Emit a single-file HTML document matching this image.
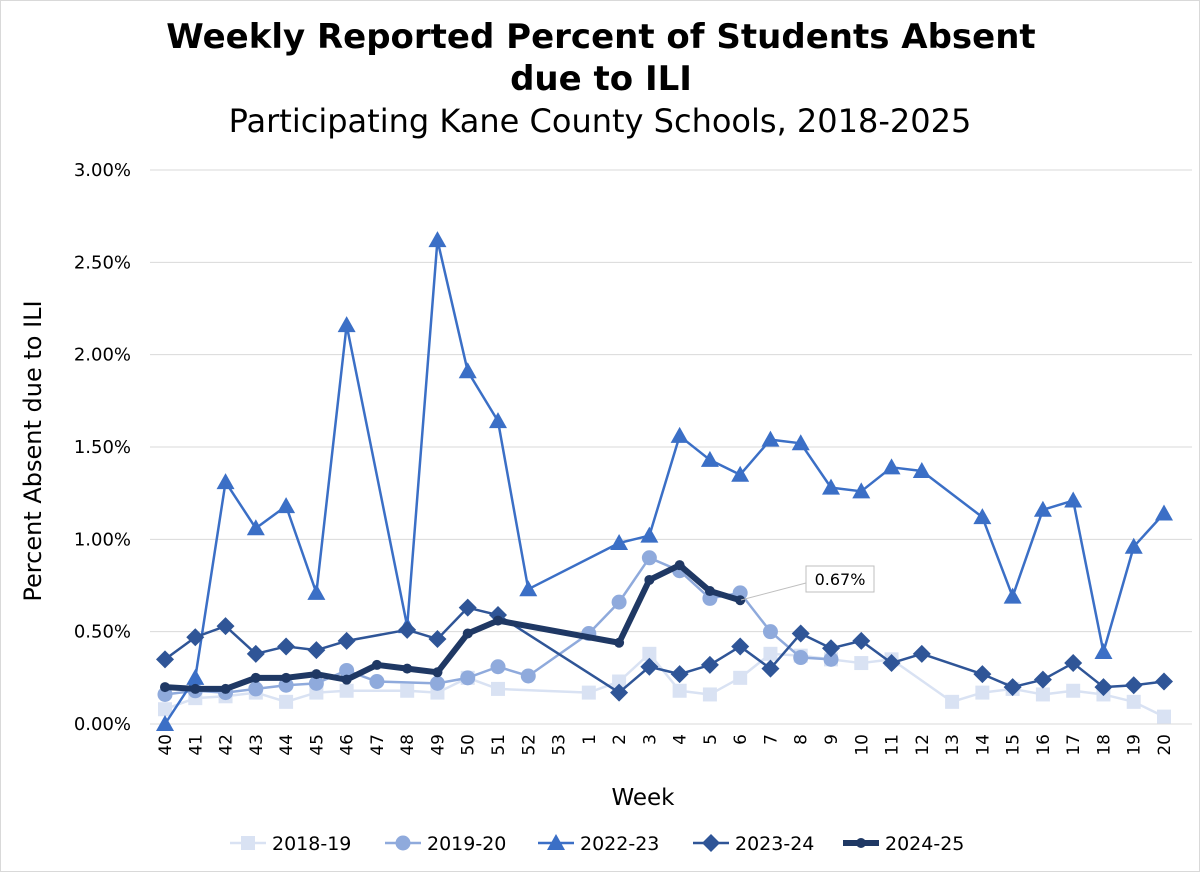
<!DOCTYPE html>
<html><head><meta charset="utf-8"><style>
body{margin:0;background:#fff;}
svg text{font-family:"DejaVu Sans","Liberation Sans",sans-serif;}
</style></head><body>
<svg id="chart" width="1200" height="872" viewBox="0 0 1200 872" xmlns="http://www.w3.org/2000/svg">
<rect x="0.5" y="0.5" width="1199" height="871" fill="#fff" stroke="#d9d9d9"/>
<text x="601" y="48" text-anchor="middle" font-size="34" font-weight="bold" fill="#000">Weekly Reported Percent of Students Absent</text>
<text x="601" y="90" text-anchor="middle" font-size="34" font-weight="bold" fill="#000">due to ILI</text>
<text x="600" y="132" text-anchor="middle" font-size="32" fill="#000">Participating Kane County Schools, 2018-2025</text>
<text transform="translate(41,451) rotate(-90)" text-anchor="middle" font-size="24" fill="#000">Percent Absent due to ILI</text>
<text x="643" y="805" text-anchor="middle" font-size="23" fill="#000">Week</text>
<g id="grid"></g><g id="xt"></g><g id="series"></g>
<g>
<line x1="741" y1="600" x2="806" y2="583" stroke="#bfbfbf"/>
<rect x="806" y="566" width="68" height="26" fill="#fff" stroke="#bfbfbf"/>
<text x="840" y="585" text-anchor="middle" font-size="16" fill="#000">0.67%</text>
</g>
<g id="legend"></g>
</svg>
<script>
const weeks=["40","41","42","43","44","45","46","47","48","49","50","51","52","53","1","2","3","4","5","6","7","8","9","10","11","12","13","14","15","16","17","18","19","20"];
const yTicks=[0,0.5,1,1.5,2,2.5,3];
const yTickLabels=["0.00%","0.50%","1.00%","1.50%","2.00%","2.50%","3.00%"];
const seriesNames=["2018-19","2019-20","2022-23","2023-24","2024-25"];
const s1819=[0.08,0.14,0.15,0.17,0.12,0.17,0.18,null,0.18,0.17,0.25,0.19,null,null,0.17,0.23,0.38,0.18,0.16,0.25,0.38,0.37,0.35,0.33,0.35,null,0.12,0.17,0.19,0.16,0.18,0.16,0.12,0.04];
const s1920=[0.16,0.18,0.17,0.19,0.21,0.22,0.29,0.23,null,0.22,0.25,0.31,0.26,null,0.49,0.66,0.90,0.83,0.68,0.71,0.50,0.36,0.35,null,null,null,null,null,null,null,null,null,null,null];
const s2223=[0.00,0.25,1.31,1.06,1.18,0.71,2.16,null,0.53,2.62,1.91,1.64,0.73,null,null,0.98,1.02,1.56,1.43,1.35,1.54,1.52,1.28,1.26,1.39,1.37,null,1.12,0.69,1.16,1.21,0.39,0.96,1.14];
const s2324=[0.35,0.47,0.53,0.38,0.42,0.40,0.45,null,0.51,0.46,0.63,0.59,null,null,null,0.17,0.31,0.27,0.32,0.42,0.30,0.49,0.41,0.45,0.33,0.38,null,0.27,0.20,0.24,0.33,0.20,0.21,0.23];
const s2425=[0.20,0.19,0.19,0.25,0.25,0.27,0.24,0.32,0.30,0.28,0.49,0.56,null,null,null,0.44,0.78,0.86,0.72,0.67,null,null,null,null,null,null,null,null,null,null,null,null,null,null];
const NS="http://www.w3.org/2000/svg";
const x0=165,x1=1164,yb=724,yt=170,plotL=150,plotR=1192;
const X=i=>x0+i*(x1-x0)/(weeks.length-1);
const Y=v=>yb-(v/3)*(yb-yt);
function mk(t,a,p){const e=document.createElementNS(NS,t);for(const k in a)e.setAttribute(k,a[k]);p.appendChild(e);return e;}
const grid=document.getElementById('grid');
yTicks.forEach((v,i)=>{
 const l=mk('line',{x1:plotL,x2:plotR,y1:Y(v),y2:Y(v),stroke:'#d9d9d9','stroke-width':1},grid);
 
 
 const t=mk('text',{x:131,y:Y(v)+6,'text-anchor':'end','font-size':18,fill:'#000'},grid);
 t.textContent=yTickLabels[i];
 
 
});
const xt=document.getElementById('xt');
weeks.forEach((w,i)=>{
 const t=mk('text',{transform:`translate(${X(i)+6},734) rotate(-90)`,'text-anchor':'end','font-size':17,fill:'#000'},xt);
 t.textContent=w;
 
 
});
const styles=[
 {d:s1819,c:'#d9e2f3',w:2.5,m:'square'},
 {d:s1920,c:'#8faadc',w:2.5,m:'circle'},
 {d:s2223,c:'#3b6fc6',w:2.5,m:'triangle'},
 {d:s2324,c:'#2f5597',w:2.5,m:'diamond'},
 {d:s2425,c:'#1f3864',w:6,m:'dot'}];
function marker(type,cx,cy,c,g){
 let e;
 if(type==='square')e=mk('rect',{x:cx-7,y:cy-7,width:14,height:14,fill:c},g);
 else if(type==='circle')e=mk('circle',{cx:cx,cy:cy,r:7.5,fill:c},g);
 else if(type==='triangle')e=mk('polygon',{points:`${cx},${cy-9} ${cx+9},${cy+7} ${cx-9},${cy+7}`,fill:c},g);
 else if(type==='diamond')e=mk('polygon',{points:`${cx},${cy-9} ${cx+9},${cy} ${cx},${cy+9} ${cx-9},${cy}`,fill:c},g);
 else e=mk('circle',{cx:cx,cy:cy,r:5,fill:c},g);
 return e;
}
const sg=document.getElementById('series');
styles.forEach((s,si)=>{
 const g=mk('g',{},sg);
 
 
 const pts=[];s.d.forEach((v,i)=>{if(v!==null)pts.push([X(i),Y(v)]);});
 const p=mk('polyline',{points:pts.map(q=>q.join(',')).join(' '),fill:'none',stroke:s.c,'stroke-width':s.w,'stroke-linejoin':'round'},g);
 
 
 pts.forEach(q=>{const m=marker(s.m,q[0],q[1],s.c,g);
  
  });
});
const lg=document.getElementById('legend');
const lx=[230,385,538,693,843];
styles.forEach((s,i)=>{
 const g=mk('g',{},lg);
 
 
 mk('line',{x1:lx[i],x2:lx[i]+36,y1:843,y2:843,stroke:s.c,'stroke-width':s.w},g);
 marker(s.m,lx[i]+18,843,s.c,g);
 const t=mk('text',{x:lx[i]+42,y:850,'font-size':19,fill:'#000'},g);
 t.textContent=seriesNames[i];
});
</script>
</body></html>
